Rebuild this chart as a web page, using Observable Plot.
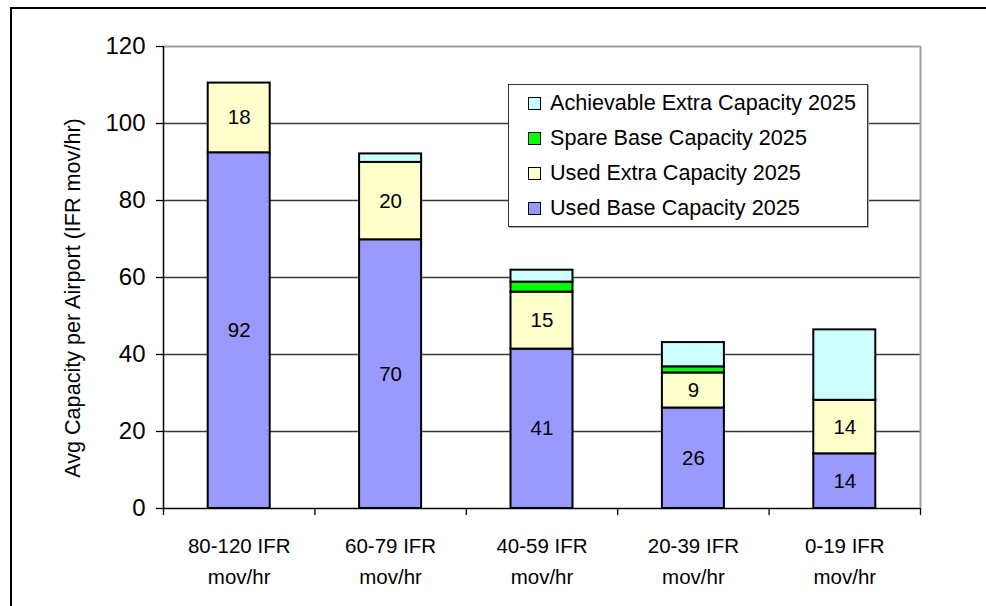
<!DOCTYPE html>
<html>
<head>
<meta charset="utf-8">
<script src="https://cdn.jsdelivr.net/npm/d3@7"></script>
<script src="https://cdn.jsdelivr.net/npm/@observablehq/plot@0.6"></script>
<style>
  html, body { margin: 0; padding: 0; background: #fff; }
  #wrap { position: relative; width: 986px; height: 606px; overflow: hidden; font-family: "Liberation Sans", Arial, sans-serif; }
  #border { position: absolute; left: 10px; top: 7px; right: -5px; bottom: -5px; border-left: 2px solid #000; border-top: 2px solid #000; }
  #ytitle { position: absolute; left: 73px; top: 298px; transform: translate(-50%, -50%) rotate(-90deg); white-space: nowrap; font-size: 21.6px; color: #000; }
  #legend { position: absolute; left: 508px; top: 84px; width: 358px; height: 141px; border: 1.5px solid #333; background: #fff; box-shadow: 1px 1px 0 #aaa; }
  .item { position: absolute; left: 19px; height: 24px; display: flex; align-items: center; font-size: 21.6px; color: #000; white-space: nowrap; }
  .sw { width: 11px; height: 11px; border: 1.5px solid #000; margin-right: 9px; }
</style>
</head>
<body>
<div id="wrap">
  <div id="border"></div>
  <div id="chart"></div>
  <div id="ytitle">Avg Capacity per Airport (IFR mov/hr)</div>
  <div id="legend"></div>
</div>
<script>
// ---- data ----
const categories = ["80-120 IFR\nmov/hr", "60-79 IFR\nmov/hr", "40-59 IFR\nmov/hr", "20-39 IFR\nmov/hr", "0-19 IFR\nmov/hr"];
const series = ["Used Base Capacity 2025", "Used Extra Capacity 2025", "Spare Base Capacity 2025", "Achievable Extra Capacity 2025"];
const usedBase   = [92.4, 69.8, 41.4, 26.1, 14.2];
const usedExtra  = [18.1, 20.1, 14.8, 9.1, 13.9];
const spareBase  = [0, 0, 2.6, 1.6, 0];
const achievable = [0, 2.2, 3.1, 6.3, 18.3];
const colors = ["#9999FF", "#FFFFCC", "#00FF00", "#CCFFFF"];
const labelledSeries = ["Used Base Capacity 2025", "Used Extra Capacity 2025"];
const yTicks = [0, 20, 40, 60, 80, 100, 120];

// ---- build stacked rows ----
const valuesBySeries = [usedBase, usedExtra, spareBase, achievable];
const rows = [];
categories.forEach((c, i) => {
  let cum = 0;
  series.forEach((s, k) => {
    const v = valuesBySeries[k][i];
    if (v > 0) rows.push({i, x1: i, x2: i + 1, xm: i + 0.5, series: s, value: v, y1: cum, y2: cum + v, ym: cum + v / 2});
    cum += v;
  });
});
const labels = rows.filter(d => labelledSeries.includes(d.series));

const W = 986, H = 606;
const mL = 163, mR = 66, mT = 46, mB = 98;
const band = (W - mL - mR) / categories.length;
const barW = 62;
const inset = (band - barW) / 2;

const chart = Plot.plot({
  width: W, height: H,
  marginLeft: mL, marginRight: mR, marginTop: mT, marginBottom: mB,
  style: {fontFamily: "Liberation Sans, Arial, sans-serif", fontSize: "20px", background: "transparent", color: "#000", overflow: "visible"},
  x: {domain: [0, categories.length]},
  y: {domain: [0, 120]},
  color: {domain: series, range: colors},
  marks: [
    Plot.gridY(yTicks.filter(t => t > 0 && t < 120), {stroke: "#3a3a3a", strokeOpacity: 1, strokeWidth: 1.3}),
    Plot.ruleY([120], {stroke: "#a0a0a0", strokeWidth: 2}),
    Plot.ruleX([categories.length], {stroke: "#a0a0a0", strokeWidth: 2}),
    Plot.rectY(rows, {x1: "x1", x2: "x2", y1: "y1", y2: "y2", fill: "series", stroke: "#000", strokeWidth: 2, insetLeft: inset, insetRight: inset}),
    Plot.text(labels, {x: "xm", y: "ym", text: d => Math.round(d.value).toString(), fontSize: 20.5, fill: "#000"}),
    Plot.ruleX([0], {stroke: "#000", strokeWidth: 1.5}),
    Plot.ruleY([0], {stroke: "#000", strokeWidth: 1.5}),
    Plot.axisY({ticks: yTicks, tickSize: 7, tickPadding: 11, fontSize: 24, label: null, strokeWidth: 1.3}),
    Plot.axisX({ticks: d3.range(categories.length + 1), tickSize: 7, tickFormat: () => "", label: null, strokeWidth: 1.3}),
    Plot.axisX({ticks: categories.map((_, i) => i + 0.5), tickFormat: d => categories[Math.floor(d)], tickSize: 0, tickPadding: 22, fontSize: 20.5, lineHeight: 1.53, label: null})
  ]
});
document.getElementById("chart").appendChild(chart);

// ---- legend ----
const legend = document.getElementById("legend");
series.slice().reverse().forEach((s, j) => {
  const k = series.indexOf(s);
  const item = document.createElement("div");
  item.className = "item";
  item.style.top = (6 + j * 35) + "px";
  const sw = document.createElement("div");
  sw.className = "sw";
  sw.style.background = colors[k];
  item.appendChild(sw);
  item.appendChild(document.createTextNode(s));
  legend.appendChild(item);
});
</script>
</body>
</html>
